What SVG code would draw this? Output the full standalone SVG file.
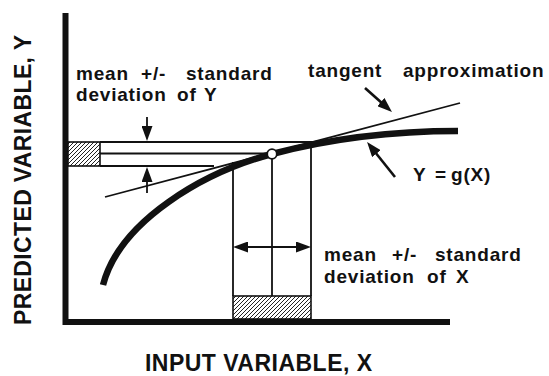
<svg xmlns="http://www.w3.org/2000/svg" width="549" height="376" viewBox="0 0 549 376">
<style>
  .lbl { font-family: "Liberation Sans", Arial, sans-serif; font-weight: bold; fill: #111; }
  .big { font-size: 23px; }
  .sm { font-size: 19px; letter-spacing: 0.8px; }
  .thin { stroke: #111; stroke-width: 1.8; fill: none; }
  .ptr { stroke: #111; stroke-width: 2.6; fill: none; }
  .axis { stroke: #111; stroke-width: 6; fill: none; }
</style>
<defs>
  <pattern id="hatch" width="4" height="4" patternUnits="userSpaceOnUse">
    <rect width="4" height="4" fill="#fff"/>
    <path d="M-1,1 L1,-1 M0,4 L4,0 M3,5 L5,3" stroke="#222" stroke-width="1"/>
  </pattern>
  <marker id="ah" viewBox="0 0 15 11" refX="9" refY="5.5" markerWidth="15" markerHeight="11" markerUnits="userSpaceOnUse" orient="auto-start-reverse">
    <path d="M0,0 L15,5.5 L0,11 z" fill="#111"/>
  </marker>
</defs>
<rect width="549" height="376" fill="#fff"/>

<g id="axes">
  <line class="axis" x1="65.5" y1="13" x2="65.5" y2="325"/>
  <line class="axis" x1="63" y1="322" x2="450" y2="322"/>
</g>

<g id="std-y">
  <rect x="68" y="142" width="32" height="24" fill="url(#hatch)" stroke="#111" stroke-width="1.6"/>
  <line class="thin" x1="100" y1="142" x2="314" y2="142"/>
  <line class="thin" x1="100" y1="153.5" x2="268" y2="153.5"/>
  <line class="thin" x1="100" y1="166" x2="214" y2="166"/>
</g>

<g id="std-x">
  <line class="thin" x1="233" y1="162" x2="233" y2="296"/>
  <line class="thin" x1="272" y1="159" x2="272" y2="296"/>
  <line class="thin" x1="311" y1="142" x2="311" y2="296"/>
  <rect x="233" y="296" width="78" height="23" fill="url(#hatch)" stroke="#111" stroke-width="1.6"/>
</g>

<g id="tangent">
  <line x1="105" y1="197" x2="460" y2="103" stroke="#111" stroke-width="1.8"/>
</g>

<g id="curve">
  <path d="M103,285 C120,220 205,171.8 272,154 C335,137.3 400,131 458,131" fill="none" stroke="#111" stroke-width="6.5"/>
</g>

<g id="mean-point">
  <circle cx="272" cy="154" r="4.8" fill="#fff" stroke="#111" stroke-width="1.8"/>
</g>

<g id="connectors">
  <line class="thin" x1="147" y1="117" x2="147" y2="135" marker-end="url(#ah)"/>
  <line class="thin" x1="147" y1="193" x2="147" y2="173" marker-end="url(#ah)"/>
  <line class="thin" x1="239" y1="247" x2="305" y2="247" marker-start="url(#ah)" marker-end="url(#ah)"/>
  <line class="ptr" x1="365" y1="88" x2="387.5" y2="108" marker-end="url(#ah)"/>
  <line class="ptr" x1="395" y1="177" x2="370.8" y2="146.7" marker-end="url(#ah)"/>
</g>

<g id="label-std-y" class="lbl sm">
  <text y="80"><tspan x="76">mean</tspan><tspan x="141">+/-</tspan><tspan x="186">standard</tspan></text>
  <text y="101"><tspan x="76">deviation</tspan><tspan x="177">of</tspan><tspan x="204">Y</tspan></text>
</g>

<g id="label-tangent" class="lbl sm">
  <text y="77"><tspan x="308">tangent</tspan><tspan x="403">approximation</tspan></text>
</g>

<g id="label-g" class="lbl sm">
  <text y="181"><tspan x="413">Y</tspan><tspan x="435">=</tspan><tspan x="451">g(X)</tspan></text>
</g>

<g id="label-std-x" class="lbl sm">
  <text y="261"><tspan x="324">mean</tspan><tspan x="392">+/-</tspan><tspan x="435">standard</tspan></text>
  <text y="283"><tspan x="324">deviation</tspan><tspan x="427">of</tspan><tspan x="456">X</tspan></text>
</g>

<g id="axis-labels" class="lbl big">
  <text x="258.5" y="371" text-anchor="middle" textLength="227" lengthAdjust="spacing">INPUT VARIABLE, X</text>
  <text transform="translate(31,180) rotate(-90)" text-anchor="middle" textLength="290" lengthAdjust="spacing">PREDICTED VARIABLE, Y</text>
</g>
</svg>
